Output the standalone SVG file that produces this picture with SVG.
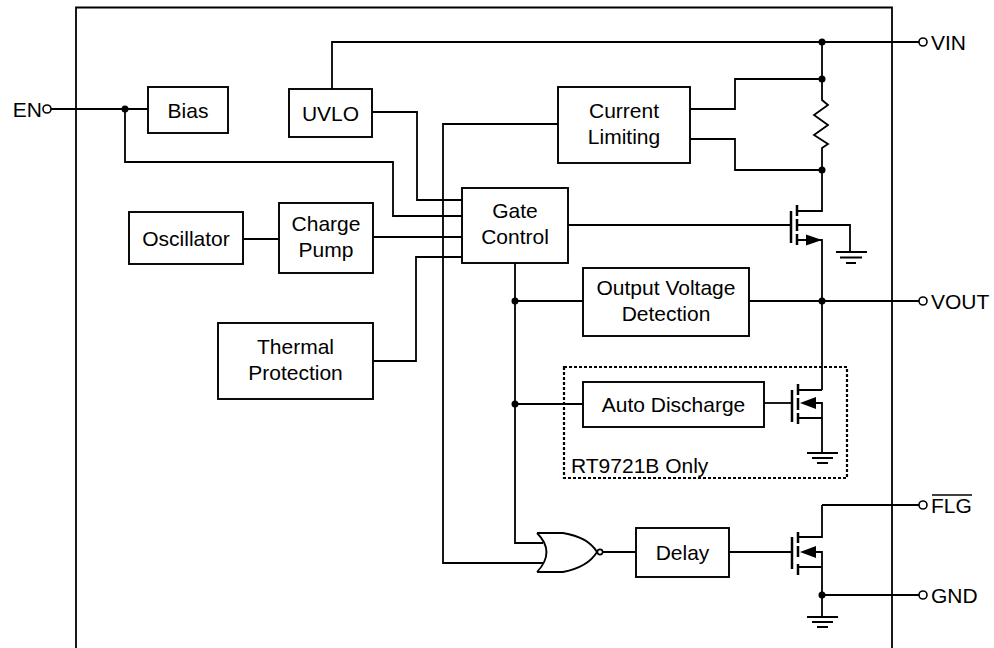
<svg xmlns="http://www.w3.org/2000/svg" width="994" height="648" viewBox="0 0 994 648">
<style>
.box{fill:#fff;stroke:#000;stroke-width:1.9}
.w{fill:none;stroke:#000;stroke-width:1.8}
.ch{fill:none;stroke:#000;stroke-width:2.5}
.t{font-family:"Liberation Sans",Arial,sans-serif;font-size:21px;fill:#000;text-anchor:middle}
.lbl{font-family:"Liberation Sans",Arial,sans-serif;font-size:21px;fill:#000}
.dot{fill:#000}
.term{fill:#fff;stroke:#000;stroke-width:1.6}
</style>
<rect width="994" height="648" fill="#fff"/>
<g id="frame"><path class="w" d="M76,648 V7.5 H892 V648"/></g>
<g id="connectors">
<path class="w" d="M332,89 V42 H919"/>
<path class="w" d="M51,109 H148"/>
<path class="w" d="M125,109 V162 H393 V216 H462"/>
<path class="w" d="M372,112 H417 V200 H462"/>
<path class="w" d="M373,237 H462"/>
<path class="w" d="M373,361 H416 V257 H462"/>
<path class="w" d="M243,239 H279"/>
<path class="w" d="M558,124 H443 V563 H543"/>
<path class="w" d="M568,225 H791"/>
<path class="w" d="M515,263 V543 H543"/>
<path class="w" d="M515,301 H583"/>
<path class="w" d="M515,404 H583"/>
<path class="w" d="M749,301 H919"/>
<path class="w" d="M690,109 H735 V79 H822"/>
<path class="w" d="M690,139 H735 V170 H822"/>
<path class="w" d="M822,42 V100 L828,105 L814,115 L828,125 L814,135 L828,144 L822,148 V211 H797"/>
<path class="w" d="M603,552 H636"/>
<path class="w" d="M729,552 H792"/>
<path class="w" d="M764,403 H792"/>
<path class="w" d="M822,505 H919"/>
<path class="w" d="M822,595 H919"/>
<circle class="dot" cx="125" cy="109" r="3.5"/>
<circle class="dot" cx="822" cy="42" r="3.5"/>
<circle class="dot" cx="822" cy="79" r="3.5"/>
<circle class="dot" cx="822" cy="170" r="3.5"/>
<circle class="dot" cx="822" cy="301" r="3.5"/>
<circle class="dot" cx="515" cy="301" r="3.5"/>
<circle class="dot" cx="515" cy="404" r="3.5"/>
<circle class="dot" cx="822" cy="595" r="3.5"/>
</g>
<g id="terminals">
<circle class="term" cx="47" cy="109" r="4"/>
<text class="lbl" x="42" y="116.5" text-anchor="end">EN</text>
<circle class="term" cx="923" cy="42" r="4"/>
<text class="lbl" x="931" y="49.5">VIN</text>
<circle class="term" cx="923" cy="301" r="4"/>
<text class="lbl" x="931" y="308.5">VOUT</text>
<circle class="term" cx="923" cy="505" r="4"/>
<text class="lbl" x="931" y="512.5">FLG</text>
<line x1="932" y1="495" x2="972" y2="495" stroke="#000" stroke-width="1.5"/>
<circle class="term" cx="923" cy="595" r="4"/>
<text class="lbl" x="931" y="602.5">GND</text>
</g>
<g id="bias"><rect class="box" x="148" y="87" width="80" height="46"/><text class="t" x="188" y="117.5">Bias</text></g>
<g id="uvlo"><rect class="box" x="289" y="89" width="83" height="48"/><text class="t" x="330.5" y="120.5">UVLO</text></g>
<g id="current-limiting"><rect class="box" x="558" y="87" width="132" height="76"/><text class="t" x="624" y="117.5">Current</text><text class="t" x="624" y="143.5">Limiting</text></g>
<g id="gate-control"><rect class="box" x="462" y="188" width="106" height="75"/><text class="t" x="515" y="218">Gate</text><text class="t" x="515" y="244">Control</text></g>
<g id="oscillator"><rect class="box" x="129" y="212" width="114" height="52"/><text class="t" x="186" y="245.5">Oscillator</text></g>
<g id="charge-pump"><rect class="box" x="279" y="203" width="94" height="70"/><text class="t" x="326" y="231">Charge</text><text class="t" x="326" y="257">Pump</text></g>
<g id="thermal-protection"><rect class="box" x="218" y="323" width="155" height="76"/><text class="t" x="295.5" y="353.5">Thermal</text><text class="t" x="295.5" y="379.5">Protection</text></g>
<g id="output-voltage-detection"><rect class="box" x="583" y="268" width="166" height="68"/><text class="t" x="666" y="294.5">Output Voltage</text><text class="t" x="666" y="320.5">Detection</text></g>
<g id="rt9721b-only"><rect x="564" y="367" width="283" height="111" fill="none" stroke="#000" stroke-width="2.2" stroke-dasharray="3,2"/><text class="lbl" x="571" y="473">RT9721B Only</text></g>
<g id="auto-discharge"><rect class="box" x="583" y="382" width="181" height="45"/><text class="t" x="673.5" y="412">Auto Discharge</text></g>
<g id="delay"><rect class="box" x="636" y="528" width="93" height="49"/><text class="t" x="682.5" y="560">Delay</text></g>
<g id="nor-gate">
<path class="w" d="M537,533 Q556,552 537,572"/>
<path class="w" d="M537,533 H563 Q588,537 597,552 Q588,567 563,572 H537"/>
<circle class="term" cx="600" cy="552" r="2.6" stroke-width="1.3"/>
</g>
<g id="pass-mosfet">
<path class="ch" d="M791,211 V243 M797,205 V216 M797,219 V231 M797,234 V245"/>
<path class="w" d="M797,225 H850 V252"/>
<path class="w" d="M797,240 H822 V390"/>
<polygon points="806,234.5 822,240 806,245.5" fill="#000"/>
<path class="w" d="M836,252 H867 M840,257.5 H862 M846,263 H856"/>
</g>
<g id="discharge-mosfet">
<path class="ch" d="M792,390 V422 M798,384 V395 M798,398 V410 M798,413 V424"/>
<path class="w" d="M822,390 H798 M806,403 H822 V453 M798,418 H822"/>
<polygon points="800,403 816,397 816,409" fill="#000"/>
<path class="w" d="M807,453 H838 M812,458 H833 M817,463 H828"/>
</g>
<g id="flg-mosfet">
<path class="ch" d="M792,537 V569 M798,532 V543 M798,546 V557 M798,564 V575"/>
<path class="w" d="M798,537 H822 V505 M806,552 H822 V617 M798,567 H822"/>
<polygon points="800,552 816,546 816,558" fill="#000"/>
<path class="w" d="M807,617 H838 M812,622 H833 M817,627 H828"/>
</g>
</svg>
